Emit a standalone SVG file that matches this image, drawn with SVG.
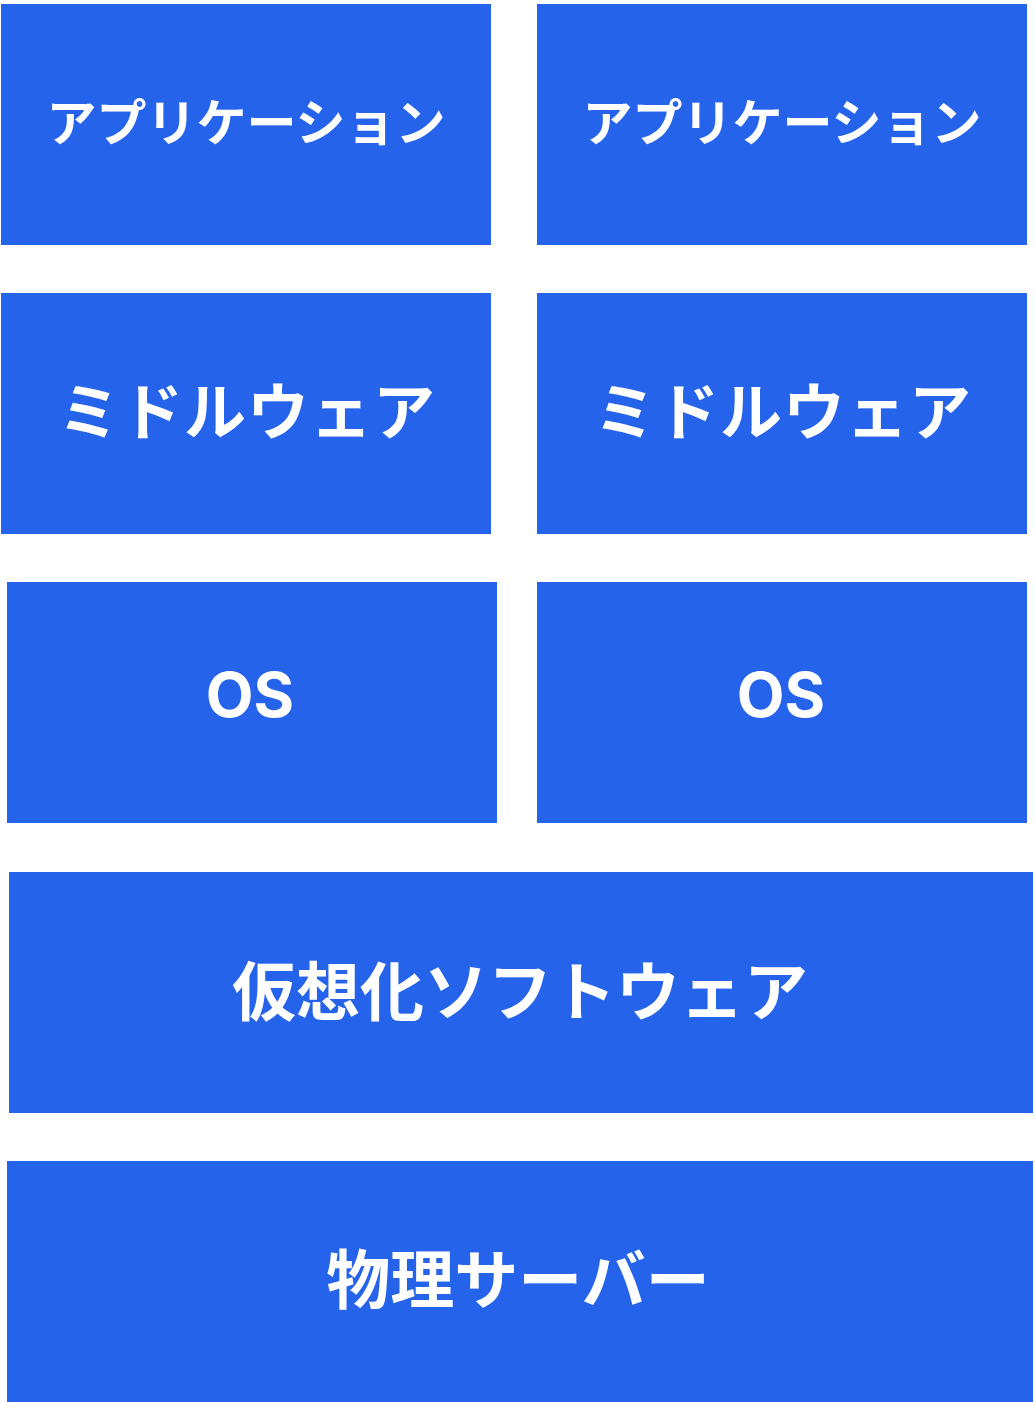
<svg xmlns="http://www.w3.org/2000/svg" width="1035" height="1402" viewBox="0 0 1035 1402">
<style>
.box{fill:#2563EB}
.t{fill:#FFFFFF;font-family:"Noto Sans CJK JP","Noto Sans",sans-serif;font-weight:700;text-anchor:middle}
.l{fill:#FFFFFF;font-family:"Inter","Noto Sans",sans-serif;font-weight:700;text-anchor:middle}
</style>
<rect width="1035" height="1402" fill="#FFFFFF"/>
<g id="connectors"></g>
<g id="app-left"><rect class="box" x="1" y="4" width="490" height="241"/><text class="t" x="246" y="141" font-size="50">アプリケーション</text></g>
<g id="app-right"><rect class="box" x="537" y="4" width="490" height="241"/><text class="t" x="782" y="141" font-size="50">アプリケーション</text></g>
<g id="mw-left"><rect class="box" x="1" y="293" width="490" height="241"/><text class="t" x="247" y="435" font-size="62" letter-spacing="1">ミドルウェア</text></g>
<g id="mw-right"><rect class="box" x="537" y="293" width="490" height="241"/><text class="t" x="783" y="435" font-size="62" letter-spacing="1">ミドルウェア</text></g>
<g id="os-left"><rect class="box" x="7" y="582" width="490" height="241"/><text class="l" x="250" y="717" font-size="62">OS</text></g>
<g id="os-right"><rect class="box" x="537" y="582" width="490" height="241"/><text class="l" x="781" y="717" font-size="62">OS</text></g>
<g id="virt"><rect class="box" x="9" y="872" width="1024" height="241"/><text class="t" x="520" y="1015" font-size="64">仮想化ソフトウェア</text></g>
<g id="physical"><rect class="box" x="7" y="1161" width="1026" height="241"/><text class="t" x="518" y="1303" font-size="64">物理サーバー</text></g>
</svg>
